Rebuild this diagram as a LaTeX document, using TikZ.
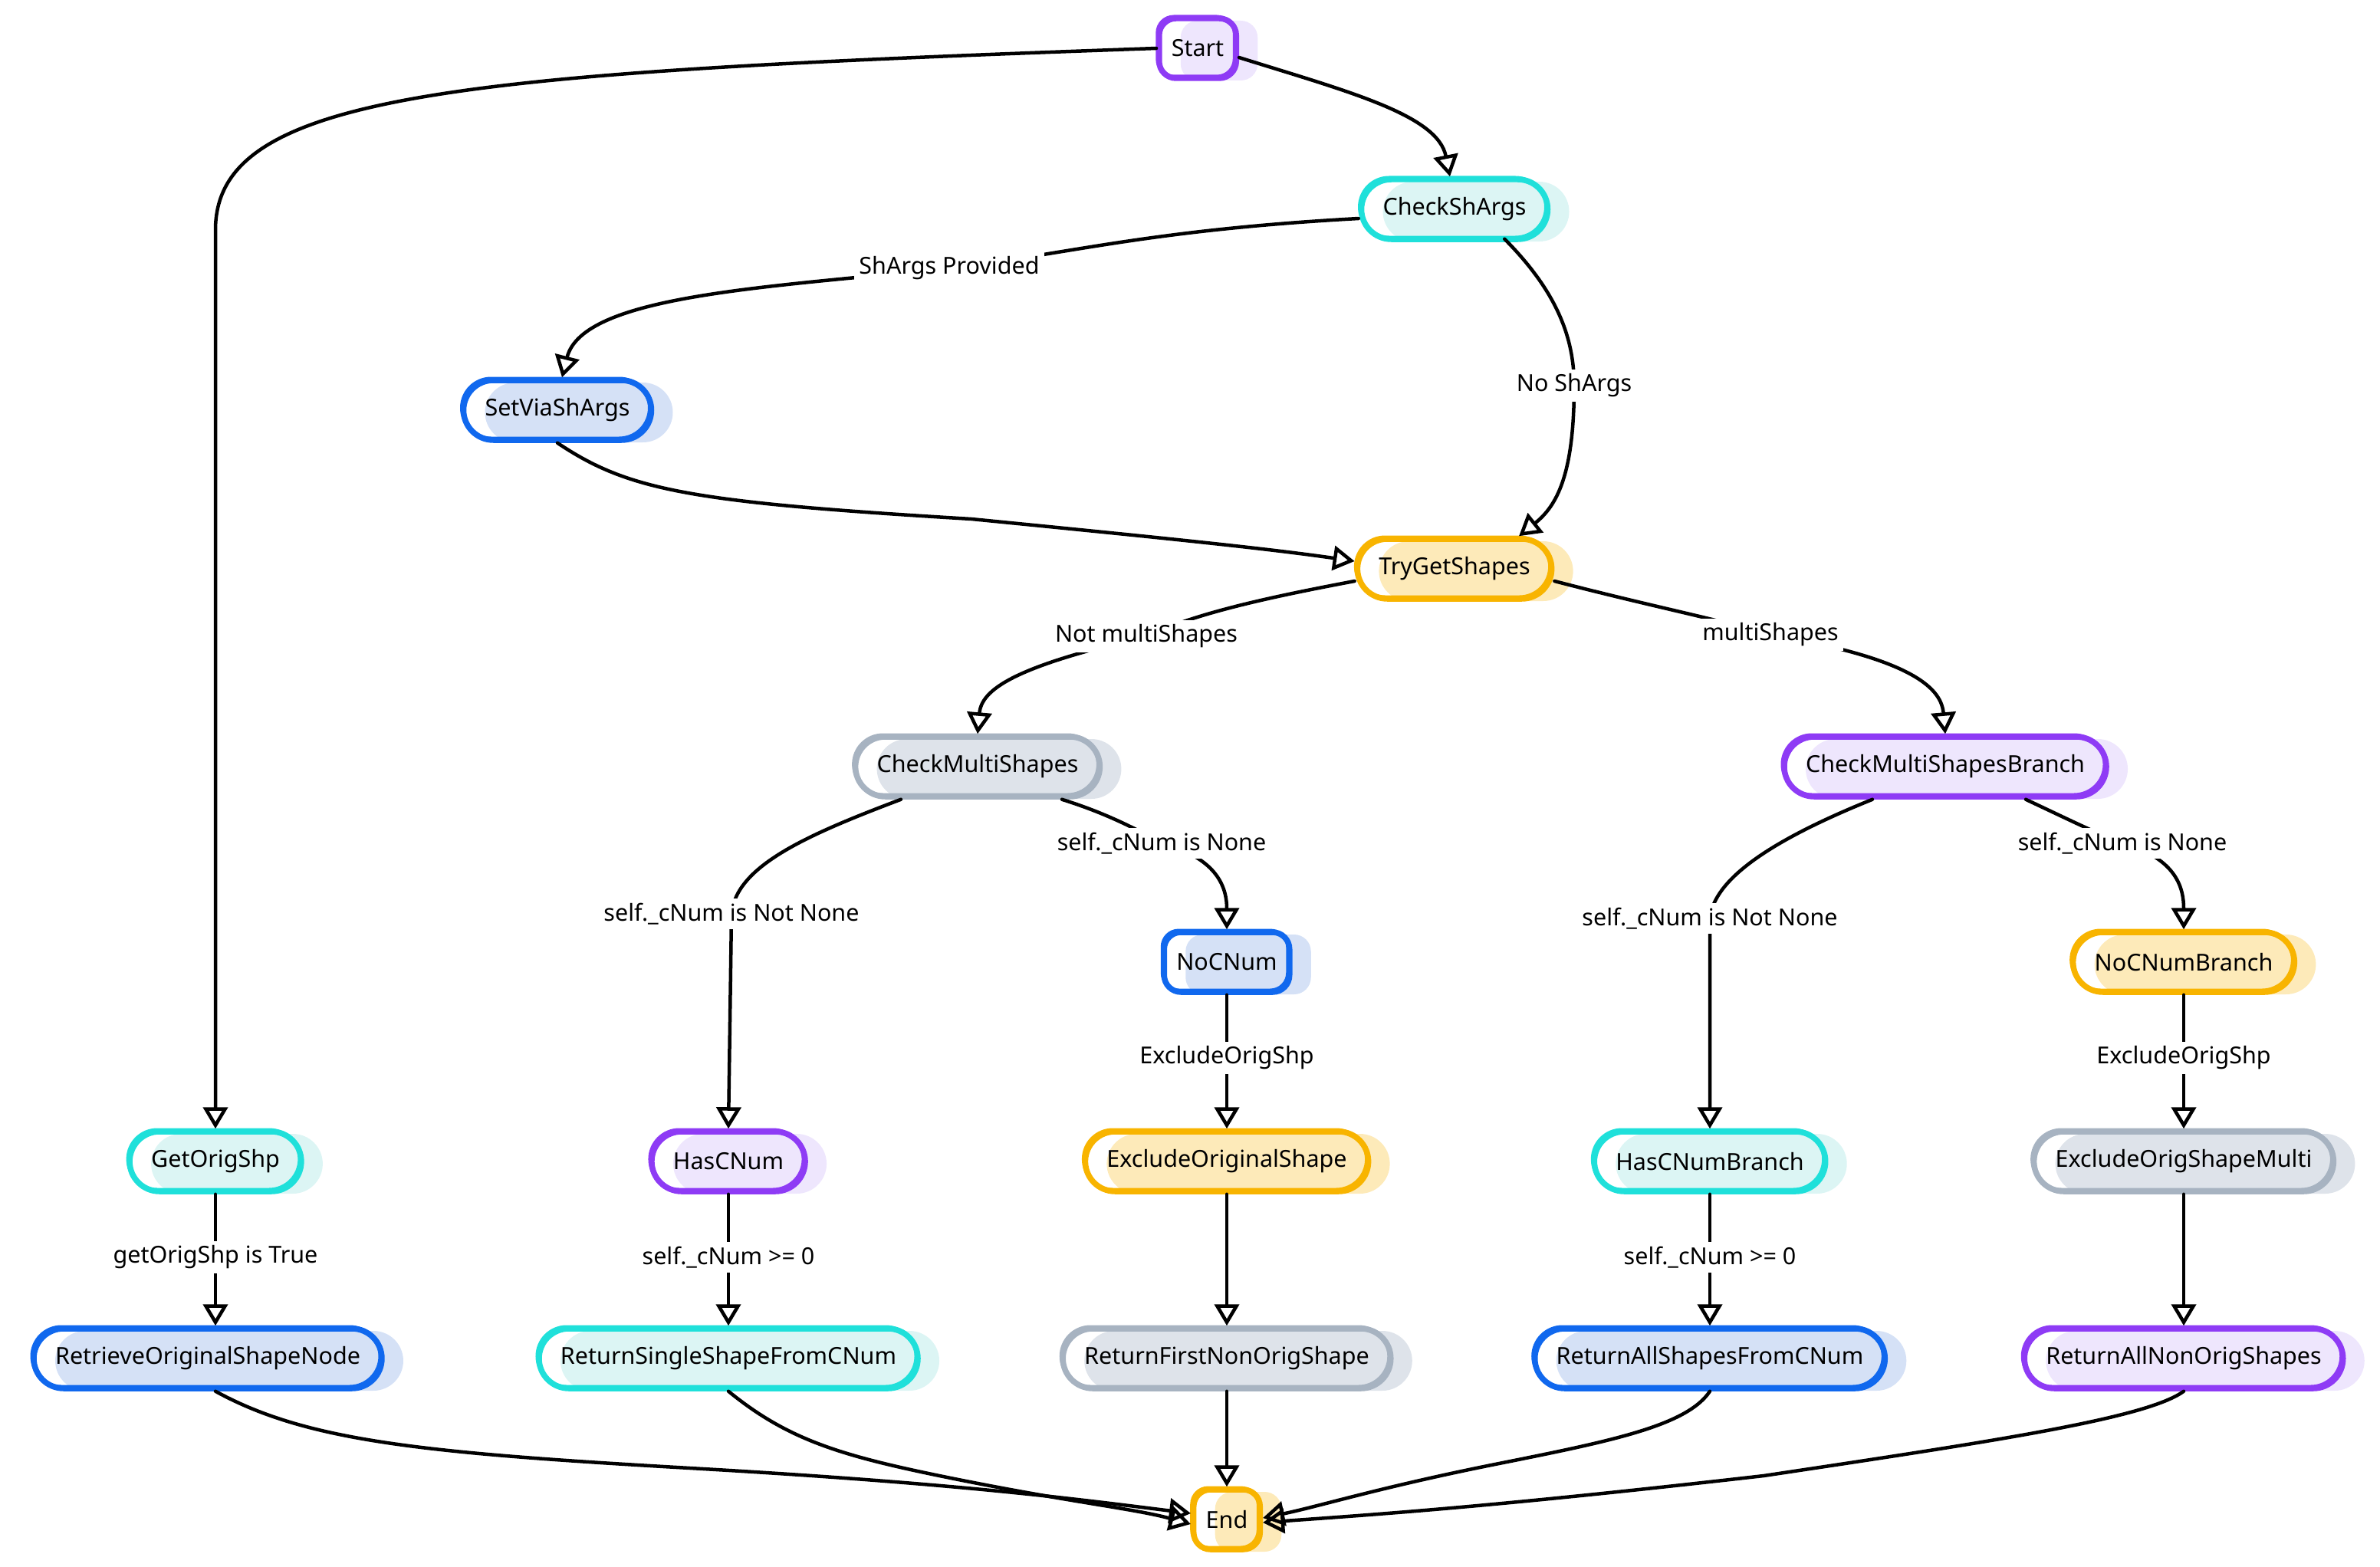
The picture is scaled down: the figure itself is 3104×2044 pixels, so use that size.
\documentclass[tikz,border=0pt]{standalone}
\usepackage{fontspec}
\setmainfont{Noto Sans}
\usetikzlibrary{arrows.meta}
\definecolor{pur}{HTML}{8E3BF5}
\definecolor{purF}{HTML}{EEE6FD}
\definecolor{cyn}{HTML}{1FE0DA}
\definecolor{cynF}{HTML}{DCF5F4}
\definecolor{blu}{HTML}{1068EE}
\definecolor{bluF}{HTML}{D5E1F6}
\definecolor{gld}{HTML}{F8B400}
\definecolor{gldF}{HTML}{FDEAB9}
\definecolor{gry}{HTML}{A7B3C1}
\definecolor{gryF}{HTML}{DEE3EA}
\newcommand\ndfont{\fontsize{30.5}{36}\selectfont}
\tikzset{
  nd/.style 2 args={draw=#1, line width=7.5pt, rounded corners=39pt, minimum height=78pt,
     inner xsep=28pt, font=\ndfont, text=black,
     preaction={fill=#2, draw=none, transform canvas={xshift=28pt,yshift=-3pt}},
     postaction={draw=#1, line width=3pt, transform canvas={xshift=-3pt,yshift=3pt}}},
  sq/.style={rounded corners=22pt, inner xsep=16pt},
  lbl/.style={fill=white, inner sep=6pt, font=\ndfont, text=black},
  edge/.style={draw=black, line width=4.5pt, line cap=round,
     -{Triangle[open, length=28pt, width=32pt, line width=4.5pt]}},
}
\begin{document}
\begin{tikzpicture}[x=1pt, y=-1pt]
\useasboundingbox (0,0) rectangle (3104,2044);

% nodes
\node[nd={pur}{purF}, sq] (Start) at (1562,63) {Start};
\node[nd={cyn}{cynF}] (CheckShArgs) at (1897,273) {CheckShArgs};
\node[nd={blu}{bluF}] (SetViaShArgs) at (727,535) {SetViaShArgs};
\node[nd={gld}{gldF}] (TryGetShapes) at (1897,742) {TryGetShapes};
\node[nd={gry}{gryF}] (CheckMultiShapes) at (1275,1000) {CheckMultiShapes};
\node[nd={pur}{purF}] (CheckMultiShapesBranch) at (2537,1000) {CheckMultiShapesBranch};
\node[nd={blu}{bluF}, sq] (NoCNum) at (1600,1255) {NoCNum};
\node[nd={gld}{gldF}] (NoCNumBranch) at (2848,1255) {NoCNumBranch};
\node[nd={cyn}{cynF}] (GetOrigShp) at (281,1515) {GetOrigShp};
\node[nd={pur}{purF}] (HasCNum) at (950,1515) {HasCNum};
\node[nd={gld}{gldF}] (ExcludeOriginalShape) at (1600,1515) {ExcludeOriginalShape};
\node[nd={cyn}{cynF}] (HasCNumBranch) at (2230,1515) {HasCNumBranch};
\node[nd={gry}{gryF}] (ExcludeOrigShapeMulti) at (2848,1515) {ExcludeOrigShapeMulti};
\node[nd={blu}{bluF}] (Retrieve) at (271,1772) {RetrieveOriginalShapeNode};
\node[nd={cyn}{cynF}] (ReturnSingle) at (950,1772) {ReturnSingleShapeFromCNum};
\node[nd={gry}{gryF}] (ReturnFirst) at (1600,1772) {ReturnFirstNonOrigShape};
\node[nd={blu}{bluF}] (ReturnAllCNum) at (2230,1772) {ReturnAllShapesFromCNum};
\node[nd={pur}{purF}] (ReturnAllNon) at (2848,1772) {ReturnAllNonOrigShapes};
\node[nd={gld}{gldF}, sq] (End) at (1600,1982) {End};

% label positions
\coordinate (l1) at (1238,350);
\coordinate (l2) at (2053,503);
\coordinate (l3) at (1495,830);
\coordinate (l4) at (2309,828);
\coordinate (l5) at (954,1192);
\coordinate (l6) at (1515,1100);
\coordinate (l7) at (2230,1198);
\coordinate (l8) at (2768,1100);
\coordinate (l9) at (1600,1380);
\coordinate (l10) at (2848,1380);
\coordinate (l11) at (281,1640);
\coordinate (l12) at (950,1640);
\coordinate (l13) at (2230,1640);

% edges
\draw[edge] (Start.west) .. controls (600,95) and (281,120) .. (281,300) -- (GetOrigShp.north);
\draw[edge] ([yshift=-12pt]Start.east) .. controls (1760,120) and (1875,150) .. ([xshift=-6pt]CheckShArgs.north);
\draw[edge] ([yshift=-12pt]CheckShArgs.west) .. controls (1500,300) and (1400,330) .. (l1)
   .. controls (1000,375) and (760,385) .. ([xshift=6pt]SetViaShArgs.north);
\draw[edge] ([xshift=-60pt,yshift=4pt]CheckShArgs.south east) .. controls (2030,380) and (2053,440) .. (l2)
   .. controls (2053,620) and (2030,660) .. ([xshift=84pt]TryGetShapes.north);
\draw[edge] (SetViaShArgs.south) .. controls (820,640) and (900,655) .. (1267,677)
   .. controls (1500,700) and (1650,715) .. ([yshift=10pt]TryGetShapes.west);
\draw[edge] ([yshift=-16pt]TryGetShapes.west) .. controls (1650,780) and (1560,800) .. (l3)
   .. controls (1320,870) and (1280,900) .. (CheckMultiShapes.north);
\draw[edge] ([yshift=-16pt]TryGetShapes.east) .. controls (2150,790) and (2250,810) .. (l4)
   .. controls (2500,860) and (2532,900) .. (CheckMultiShapesBranch.north);
\draw[edge] ([xshift=-100pt]CheckMultiShapes.south) .. controls (1050,1090) and (960,1130) .. (l5) -- (HasCNum.north);
\draw[edge] ([xshift=110pt]CheckMultiShapes.south) .. controls (1440,1060) and (1480,1080) .. (l6)
   .. controls (1590,1120) and (1600,1160) .. (NoCNum.north);
\draw[edge] ([xshift=-95pt]CheckMultiShapesBranch.south) .. controls (2300,1100) and (2235,1150) .. (l7) -- (HasCNumBranch.north);
\draw[edge] ([xshift=105pt]CheckMultiShapesBranch.south) .. controls (2700,1070) and (2730,1085) .. (l8)
   .. controls (2840,1120) and (2848,1160) .. (NoCNumBranch.north);
\draw[edge] (NoCNum.south) -- (ExcludeOriginalShape.north);
\draw[edge] (NoCNumBranch.south) -- (ExcludeOrigShapeMulti.north);
\draw[edge] (GetOrigShp.south) -- ([xshift=10pt]Retrieve.north);
\draw[edge] (HasCNum.south) -- (ReturnSingle.north);
\draw[edge] (HasCNumBranch.south) -- (ReturnAllCNum.north);
\draw[edge] (ExcludeOriginalShape.south) -- (ReturnFirst.north);
\draw[edge] (ExcludeOrigShapeMulti.south) -- (ReturnAllNon.north);
\draw[edge] (ReturnFirst.south) -- (End.north);
\draw[edge] ([xshift=10pt]Retrieve.south) .. controls (400,1880) and (550,1895) .. (900,1915)
   .. controls (1250,1935) and (1400,1955) .. ([yshift=8pt]End.west);
\draw[edge] (ReturnSingle.south) .. controls (1030,1880) and (1100,1900) .. (1250,1930)
   .. controls (1400,1960) and (1480,1968) .. ([yshift=-6pt]End.west);
\draw[edge] (ReturnAllCNum.south) .. controls (2200,1860) and (2100,1880) .. (1950,1910)
   .. controls (1800,1940) and (1720,1965) .. ([yshift=2pt]End.east);
\draw[edge] (ReturnAllNon.south) .. controls (2800,1850) and (2600,1880) .. (2300,1925)
   .. controls (1950,1965) and (1800,1975) .. ([yshift=-4pt]End.east);

% labels
\node[lbl] (L1) at (l1) {ShArgs Provided};
\node[lbl] (L2) at (l2) {No ShArgs};
\node[lbl] (L3) at (l3) {Not multiShapes};
\node[lbl] (L4) at (l4) {multiShapes};
\node[lbl] (L5) at (l5) {self.\_cNum is Not None};
\node[lbl] (L6) at (l6) {self.\_cNum is None};
\node[lbl] (L7) at (l7) {self.\_cNum is Not None};
\node[lbl] (L8) at (l8) {self.\_cNum is None};
\node[lbl] (L9) at (l9) {ExcludeOrigShp};
\node[lbl] (L10) at (l10) {ExcludeOrigShp};
\node[lbl] (L11) at (l11) {getOrigShp is True};
\node[lbl] (L12) at (l12) {self.\_cNum >= 0};
\node[lbl] (L13) at (l13) {self.\_cNum >= 0};
\end{tikzpicture}
\end{document}
